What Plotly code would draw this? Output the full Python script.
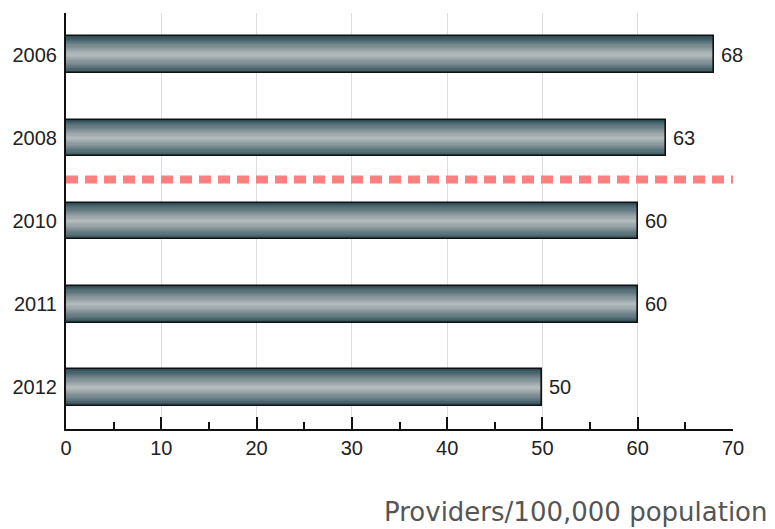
import plotly.graph_objects as go

# Providers per 100,000 population, by year
years = ["2006", "2008", "2010", "2011", "2012"]
providers = [68, 63, 60, 60, 50]
x_ticks = [0, 10, 20, 30, 40, 50, 60, 70]
axis_title = "Providers/100,000 population"

# row positions on the y axis (top to bottom)
rows = list(range(len(years)))

BAR_W = 0.44
TICK_FONT = dict(family="Liberation Sans, Arial", size=20, color="#222222")

fig = go.Figure()

# Cylinder-like shading: stacked, narrowing bars from dark edge to light centre
dark = (44, 76, 86)
light = (178, 186, 187)
steps = 16
for i in range(steps):
    t = i / (steps - 1)
    tt = t ** 0.85
    col = tuple(int(round(dark[k] + (light[k] - dark[k]) * tt)) for k in range(3))
    w = BAR_W * (1 - 0.94 * t)
    fig.add_trace(go.Bar(
        y=rows, x=providers, orientation="h", width=w,
        marker=dict(color="rgb(%d,%d,%d)" % col, line=dict(width=0)),
        hoverinfo="skip", showlegend=False,
    ))

# Black outline on top
fig.add_trace(go.Bar(
    y=rows, x=providers, orientation="h", width=BAR_W,
    marker=dict(color="rgba(0,0,0,0)", line=dict(color="#111111", width=1.6)),
    showlegend=False,
))

# Value labels at the bar ends
for r, v in zip(rows, providers):
    fig.add_annotation(x=v, y=r, text=str(v), showarrow=False,
                       xanchor="left", yanchor="middle", xshift=5,
                       font=TICK_FONT)

# Dashed separator between 2008 and 2010
fig.add_shape(type="line", xref="x", yref="y", x0=0, x1=70, y0=1.5, y1=1.5,
              line=dict(color="#ff7f7f", width=8, dash="12px,7px"), layer="above")

# Axis title, bottom right
fig.add_annotation(xref="paper", yref="paper", x=1.0555, y=-0.2,
                   xanchor="right", yanchor="middle", showarrow=False,
                   text=axis_title,
                   font=dict(family="DejaVu Sans", size=26, color="#555555"))

fig.update_layout(
    width=775, height=529,
    margin=dict(l=66, r=42, t=13, b=100, autoexpand=False),
    paper_bgcolor="white", plot_bgcolor="white",
    barmode="overlay", bargap=0,
    showlegend=False,
    xaxis=dict(
        range=[0, 70], tickvals=x_ticks, ticktext=[str(v) for v in x_ticks],
        showgrid=True, gridcolor="#dddddd", gridwidth=1,
        showline=True, linecolor="#111111", linewidth=2,
        ticks="inside", ticklen=12, tickwidth=1.5, tickcolor="#111111",
        minor=dict(dtick=5, ticks="inside", ticklen=7, tickwidth=1.5,
                   tickcolor="#111111", showgrid=False),
        tickfont=TICK_FONT, zeroline=False, fixedrange=True, automargin=False,
    ),
    yaxis=dict(
        range=[len(years) - 0.5, -0.5], tickvals=rows, ticktext=years,
        showgrid=False, showline=True, linecolor="#111111", linewidth=2,
        ticks="", ticklabelstandoff=3, tickfont=TICK_FONT, zeroline=False,
        automargin=False,
    ),
)

fig.write_html("out.html")
